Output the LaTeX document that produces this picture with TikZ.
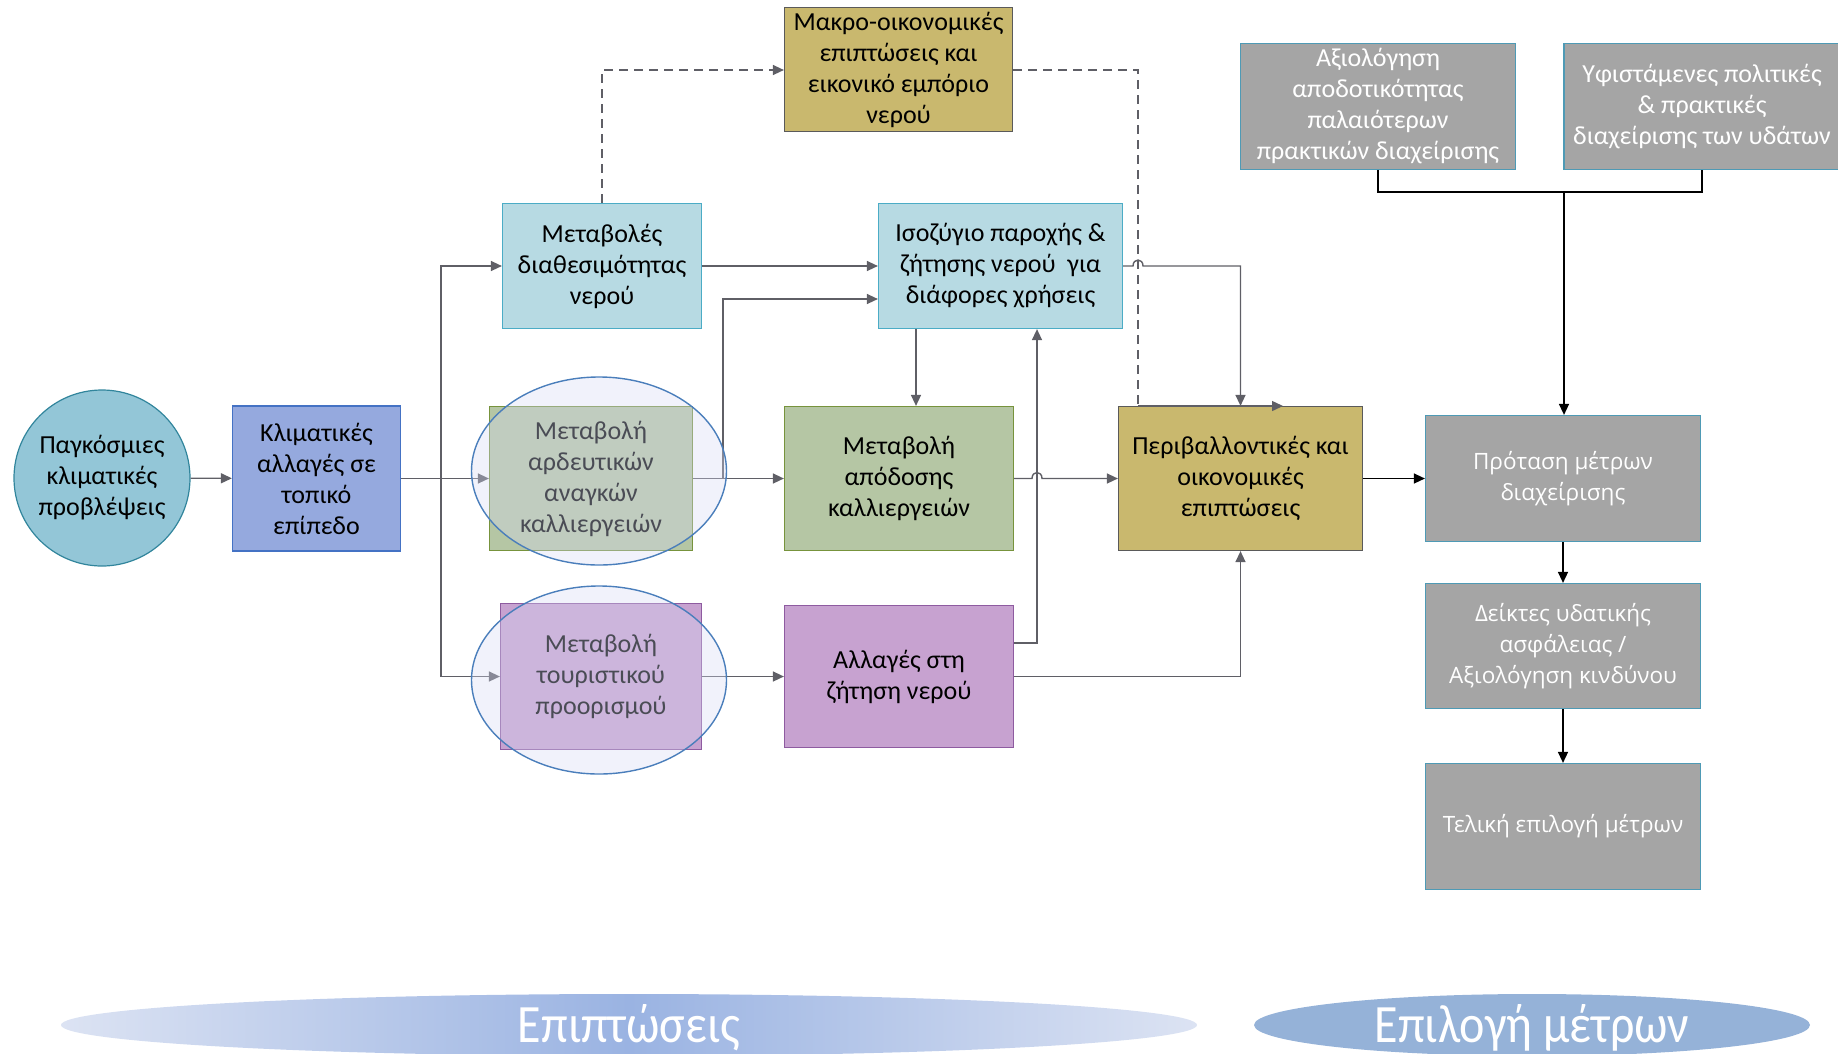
\documentclass[tikz,border=0pt]{standalone}
\usepackage{fontspec}
\setmainfont{Carlito}
\newfontfamily\osans{Open Sans}
\newfontfamily\condfont[FakeStretch=0.89]{Carlito}
\usetikzlibrary{arrows.meta,shapes.geometric}
\definecolor{cglobf}{HTML}{93C6D7}
\definecolor{cglobd}{HTML}{31859C}
\definecolor{clocf}{HTML}{95A9DE}
\definecolor{clocd}{HTML}{4472C4}
\definecolor{cltbf}{HTML}{B7DAE3}
\definecolor{cltbd}{HTML}{4BACC6}
\definecolor{ckhf}{HTML}{C9B86E}
\definecolor{ckhd}{HTML}{5A5A5A}
\definecolor{cgrf}{HTML}{B5C6A4}
\definecolor{cgrd}{HTML}{77933C}
\definecolor{cpuf}{HTML}{C7A2D0}
\definecolor{cpud}{HTML}{8E5BA0}
\definecolor{cgyf}{HTML}{A5A5A5}
\definecolor{cgyd}{HTML}{4E9AB5}
\definecolor{clav}{HTML}{D6DAF4}
\definecolor{cell}{HTML}{4A7EBB}
\definecolor{clin}{HTML}{5F5F66}
\definecolor{cbl1}{HTML}{DCE3F3}
\definecolor{cbl2}{HTML}{9AB3E2}
\definecolor{cbl3}{HTML}{95B2D8}
\begin{document}
\begin{tikzpicture}[x=1pt,y=-1pt,
  box/.style={draw, line width=1.2pt, align=center, inner sep=1pt,
    font=\fontsize{26}{31}\selectfont, text=black},
  gbox/.style={box, fill=cgyf, draw=cgyd, text=white},
  lbox/.style={gbox, font=\osans\fontsize{22.5}{31}\selectfont},
  conl/.style={draw=clin, line width=1.4pt},
  con/.style={conl, -{Triangle[length=11pt,width=10pt]}},
  dconl/.style={conl, dash pattern=on 9pt off 6pt},
  dcon/.style={con, dash pattern=on 9pt off 6pt},
  bconl/.style={draw=black, line width=1.4pt},
  bcon/.style={bconl, -{Triangle[length=11pt,width=10pt]}},
  overl/.style={ellipse, draw=cell, line width=1.4pt, fill=clav, fill opacity=0.35,
    minimum width=255, minimum height=188, inner sep=0pt},
  band/.style={text=white, font=\condfont\fontsize{54}{54}\selectfont}
]
\useasboundingbox (0,0) rectangle (1838,1053);

% nodes
\node[circle, draw=cglobd, fill=cglobf, line width=1.2pt, minimum size=176,
  align=center, inner sep=0pt, font=\fontsize{26}{31}\selectfont] (glob) at (102,478)
  {Παγκόσμιες\\κλιματικές\\προβλέψεις};
\node[box, fill=clocf, draw=clocd, minimum width=168, minimum height=145] (local) at (316.5,478.5)
  {Κλιματικές\\αλλαγές σε\\τοπικό\\επίπεδο};
\node[box, fill=cltbf, draw=cltbd, minimum width=199, minimum height=125] (avail) at (602,266)
  {Μεταβολές\\διαθεσιμότητας\\νερού};
\node[box, fill=ckhf, draw=ckhd, minimum width=228, minimum height=124] (macro) at (898.5,69.5)
  {Μακρο-οικονομικές\\επιπτώσεις και\\εικονικό εμπόριο\\νερού};
\node[box, fill=cltbf, draw=cltbd, minimum width=244, minimum height=125] (balance) at (1000.5,266)
  {Ισοζύγιο παροχής \&\\ζήτησης νερού \ για\\διάφορες χρήσεις};
\node[box, fill=cgrf, draw=cgrd, minimum width=203, minimum height=144] (irrig) at (591,478.5)
  {Μεταβολή\\αρδευτικών\\αναγκών\\καλλιεργειών};
\node[box, fill=cgrf, draw=cgrd, minimum width=229, minimum height=144] (yield) at (899,478.5)
  {Μεταβολή\\απόδοσης\\καλλιεργειών};
\node[box, fill=ckhf, draw=ckhd, minimum width=244, minimum height=144] (env) at (1240.5,478.5)
  {Περιβαλλοντικές και\\οικονομικές\\επιπτώσεις};
\node[box, fill=cpuf, draw=cpud, minimum width=201, minimum height=146] (tour) at (601,676.5)
  {Μεταβολή\\τουριστικού\\προορισμού};
\node[box, fill=cpuf, draw=cpud, minimum width=229, minimum height=142] (demand) at (899,676.5)
  {Αλλαγές στη\\ζήτηση νερού};
\node[gbox, minimum width=275, minimum height=126] (eval) at (1378,106.5)
  {Αξιολόγηση\\αποδοτικότητας\\παλαιότερων\\πρακτικών διαχείρισης};
\node[gbox, minimum width=276, minimum height=126] (policy) at (1702,106.5)
  {Υφιστάμενες πολιτικές\\\& πρακτικές\\διαχείρισης των υδάτων};
\node[lbox, minimum width=275, minimum height=126] (prop) at (1563,478.5)
  {Πρόταση μέτρων\\διαχείρισης};
\node[lbox, minimum width=275, minimum height=125] (ind) at (1563,646)
  {Δείκτες υδατικής\\ασφάλειας /\\Αξιολόγηση κινδύνου};
\node[lbox, minimum width=275, minimum height=126] (final) at (1563,826.5)
  {Τελική επιλογή μέτρων};

% coordinates
\coordinate (split) at (441,478);
\coordinate (b2) at (723,478);
\coordinate (t2) at (723,299);
\coordinate (d1) at (916,400);
\coordinate (c1) at (1037,643);
\coordinate (u1) at (602,70);
\coordinate (u2) at (1138,70);
\coordinate (u3) at (1138,406);
\coordinate (u4) at (1283,406);
\coordinate (m) at (1564,192);

% connectors
\draw[con] (glob) -- (local);
\draw[con] (local.east) -- (irrig.west);
\draw[con] (split) |- (avail.west);
\draw[con] (split) |- (tour.west);
\draw[con] (avail.east) -- (balance.west |- avail.east);
\draw[con] (irrig.east) -- (yield.west);
\draw[con] (b2) -- (t2) -- (t2 -| balance.west);
\draw[con] (balance.south -| d1) -- (yield.north -| d1);
\draw[con] (tour.east) -- (demand.west);
\draw[con] (c1 -| demand.east) -- (c1) -- (c1 |- balance.south);
\draw[con] (demand.east) -| (env.south);
\draw[con] (yield.east) -- (1032,478.5) .. controls (1032,470.5) and (1042,470.5) .. (1042,478.5) -- (env.west);
\draw[con] (balance.east) -- (1133,266) .. controls (1133,258) and (1143,258) .. (1143,266) -| (env.north);
\draw[dcon] (avail.north) -- (u1) -- (macro.west |- u1);
\draw[dconl] (macro.east |- u2) -- (u2) -- (u3);
\draw[con] (u3) -- (u4);

\draw[bcon] (env.east) -- (prop.west);
\draw[bconl] (eval.south) |- (m);
\draw[bconl] (policy.south) |- (m);
\draw[bcon] (m) -- (m |- prop.north);
\draw[bcon] (prop.south) -- (ind.north);
\draw[bcon] (ind.south) -- (final.north);

% overlay ellipses
\node[overl] (ov1) at (599,471) {};
\node[overl] (ov2) at (599,680) {};

% bottom bands
\shade[left color=cbl1, right color=cbl1, middle color=cbl2] (629,1025) ellipse [x radius=568, y radius=31];
\node[band] (lb1) at (629,1028) {Επιπτώσεις};
\fill[cbl3] (1532,1025) ellipse [x radius=278, y radius=31];
\node[band] (lb2) at (1532,1028) {Επιλογή μέτρων};
\end{tikzpicture}
\end{document}
